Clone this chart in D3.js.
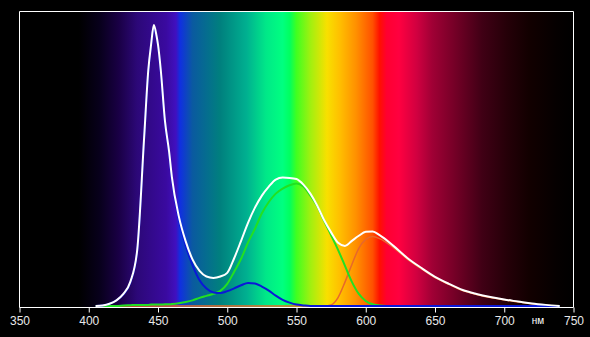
<!DOCTYPE html>
<html>
<head>
  <meta charset="utf-8">
  <title>Spectrum</title>
  <script src="https://d3js.org/d3.v7.min.js"></script>
  <style type="text/css">
    body {
      margin: 0;
      background-color: #000000;
    }
    svg {
      display: block;
    }
  </style>
</head>
<body>
<div id="chart"></div>

<script>
  // wavelengths (nm) and relative intensities
  var wavelengths = [405, 410, 415, 420, 425, 430, 435, 440, 443, 445, 447, 449, 450, 452, 455, 458, 460,
                     465, 470, 475, 480, 485, 490, 495, 500, 505, 510, 515, 520, 525, 530, 535, 540, 545, 550, 555, 560,
                     565, 570, 575, 580, 585, 590, 595, 600, 605, 610, 620, 630, 640, 650, 660, 670, 680, 690, 700, 710,
                     720, 730, 740];
  var whiteVals = [0, 0.002, 0.008, 0.02, 0.043, 0.086, 0.2, 0.6, 0.84, 0.93, 1.0, 0.96, 0.93, 0.84, 0.66, 0.55, 0.46,
                   0.32, 0.23, 0.165, 0.125, 0.105, 0.1, 0.105, 0.118, 0.17, 0.232, 0.296, 0.35, 0.393, 0.425, 0.45, 0.457, 0.456, 0.452, 0.432, 0.4,
                   0.357, 0.305, 0.262, 0.225, 0.214, 0.232, 0.25, 0.264, 0.265, 0.252, 0.214, 0.171, 0.136, 0.104, 0.079, 0.057, 0.043, 0.032, 0.023, 0.016,
                   0.009, 0.004, 0];
  var blueVals = [0, 0.002, 0.008, 0.02, 0.041, 0.083, 0.196, 0.596, 0.836, 0.925, 0.995, 0.955, 0.925, 0.834, 0.654, 0.544, 0.453,
                  0.31, 0.215, 0.145, 0.092, 0.062, 0.048, 0.046, 0.053, 0.063, 0.074, 0.082, 0.08, 0.069, 0.055, 0.037, 0.022, 0.012, 0.005, 0.002, 0,
                  0, 0, 0, 0, 0, 0, 0, 0, 0, 0, 0, 0, 0, 0, 0, 0, 0, 0, 0, 0,
                  0, 0, 0];
  var greenVals = [0, 0, 0, 0, 0.002, 0.003, 0.004, 0.004, 0.004, 0.005, 0.005, 0.005, 0.005, 0.005, 0.006, 0.006, 0.007,
                   0.01, 0.014, 0.02, 0.029, 0.036, 0.043, 0.054, 0.079, 0.122, 0.168, 0.226, 0.275, 0.33, 0.37, 0.4, 0.418, 0.43, 0.436, 0.425, 0.393,
                   0.355, 0.302, 0.252, 0.2, 0.143, 0.086, 0.043, 0.018, 0.006, 0.002, 0, 0, 0, 0, 0, 0, 0, 0, 0, 0,
                   0, 0, 0];
  var redVals = [0, 0, 0, 0, 0, 0, 0, 0, 0, 0, 0, 0, 0, 0, 0, 0, 0,
                 0, 0, 0, 0, 0, 0, 0, 0, 0, 0, 0, 0, 0, 0, 0, 0, 0, 0, 0, 0,
                 0, 0, 0.004, 0.03, 0.085, 0.148, 0.205, 0.237, 0.247, 0.24, 0.208, 0.167, 0.133, 0.101, 0.077, 0.055, 0.041, 0.03, 0.022, 0.015,
                 0.008, 0.003, 0];

  var xTicks = [350, 400, 450, 500, 550, 600, 650, 700, 750];

  // background spectrum stops
  var specNm = [350, 393, 408, 422, 435, 456, 463, 466, 475, 495, 514, 528, 540, 545, 550, 560, 572, 581, 593, 605, 610, 615, 624, 637, 648, 666, 684, 702, 718, 738, 750];
  var specColors = ["#000000", "#000000", "#08001c", "#1a0046", "#2c0878", "#3a0aa0", "#4010c0", "#1030e0", "#0a5aa0", "#00807e", "#00b090", "#00e888", "#00ff80", "#00ff60", "#40ff20", "#a0f010", "#f8e000", "#ffc000", "#ff9000", "#ff5000", "#ff1000", "#ff0030", "#ff0040", "#d00040", "#a00035", "#700025", "#400015", "#250008", "#120000", "#050000", "#000000"];

  var width = 590, height = 337;
  var svg = d3.select("#chart").append("svg").attr("width", width).attr("height", height);
  svg.append("rect").attr("width", width).attr("height", height).attr("fill", "#000000");

  var x = d3.scaleLinear().domain([350, 750]).range([19.5, 573.5]);
  var y = d3.scaleLinear().domain([0, 1.05]).range([306, 11]);

  // spectrum gradient
  var grad = svg.append("defs").append("linearGradient").attr("id", "spec")
    .attr("gradientUnits", "userSpaceOnUse")
    .attr("x1", x(350)).attr("x2", x(750)).attr("y1", 0).attr("y2", 0);
  grad.selectAll("stop").data(specNm).enter().append("stop")
    .attr("offset", function(d) { return (d - 350) / 400; })
    .attr("stop-color", function(d, i) { return specColors[i]; });

  svg.append("rect").attr("x", x(350)).attr("y", 11.5)
    .attr("width", x(750) - x(350)).attr("height", 307.5 - 11.5)
    .attr("fill", "url(#spec)");

  // frame
  svg.append("path")
    .attr("d", "M" + x(350) + ",307.5V11.5H" + x(750) + "V307.5")
    .attr("fill", "none").attr("stroke", "#ffffff").attr("stroke-width", 1);

  // curves
  var series = [
    {vals: redVals, color: "#e8682a", w: 1.5},
    {vals: greenVals, color: "#22e022", w: 2},
    {vals: blueVals, color: "#0a18d8", w: 2},
    {vals: whiteVals, color: "#ffffff", w: 2}
  ];
  series.forEach(function(s) {
    var line = d3.line()
      .x(function(d, i) { return x(wavelengths[i]); })
      .y(function(d) { return y(d); })
      .curve(d3.curveMonotoneX);
    svg.append("path").datum(s.vals)
      .attr("d", line)
      .attr("fill", "none")
      .attr("stroke", s.color)
      .attr("stroke-width", s.w)
      .attr("stroke-linejoin", "round");
  });

  // x axis
  var xAxis = d3.axisBottom(x).tickValues(xTicks).tickSize(5).tickPadding(4).tickFormat(d3.format("d"));
  var ax = svg.append("g").attr("transform", "translate(0,307.5)").call(xAxis);
  ax.select(".domain").attr("stroke", "#ffffff").attr("d", "M" + x(350) + ",0H" + x(750));
  ax.selectAll(".tick line").attr("stroke", "#ffffff");
  ax.selectAll(".tick text").attr("fill", "#e8e8e8")
    .style("font-family", "'Liberation Sans', Arial, sans-serif").style("font-size", "12px");

  svg.append("text").attr("x", 538).attr("y", 323.5)
    .attr("text-anchor", "middle").attr("fill", "#ffffff")
    .style("font-family", "'Liberation Sans', Arial, sans-serif").style("font-size", "10px")
    .text("нм");
</script>

</body>
</html>
